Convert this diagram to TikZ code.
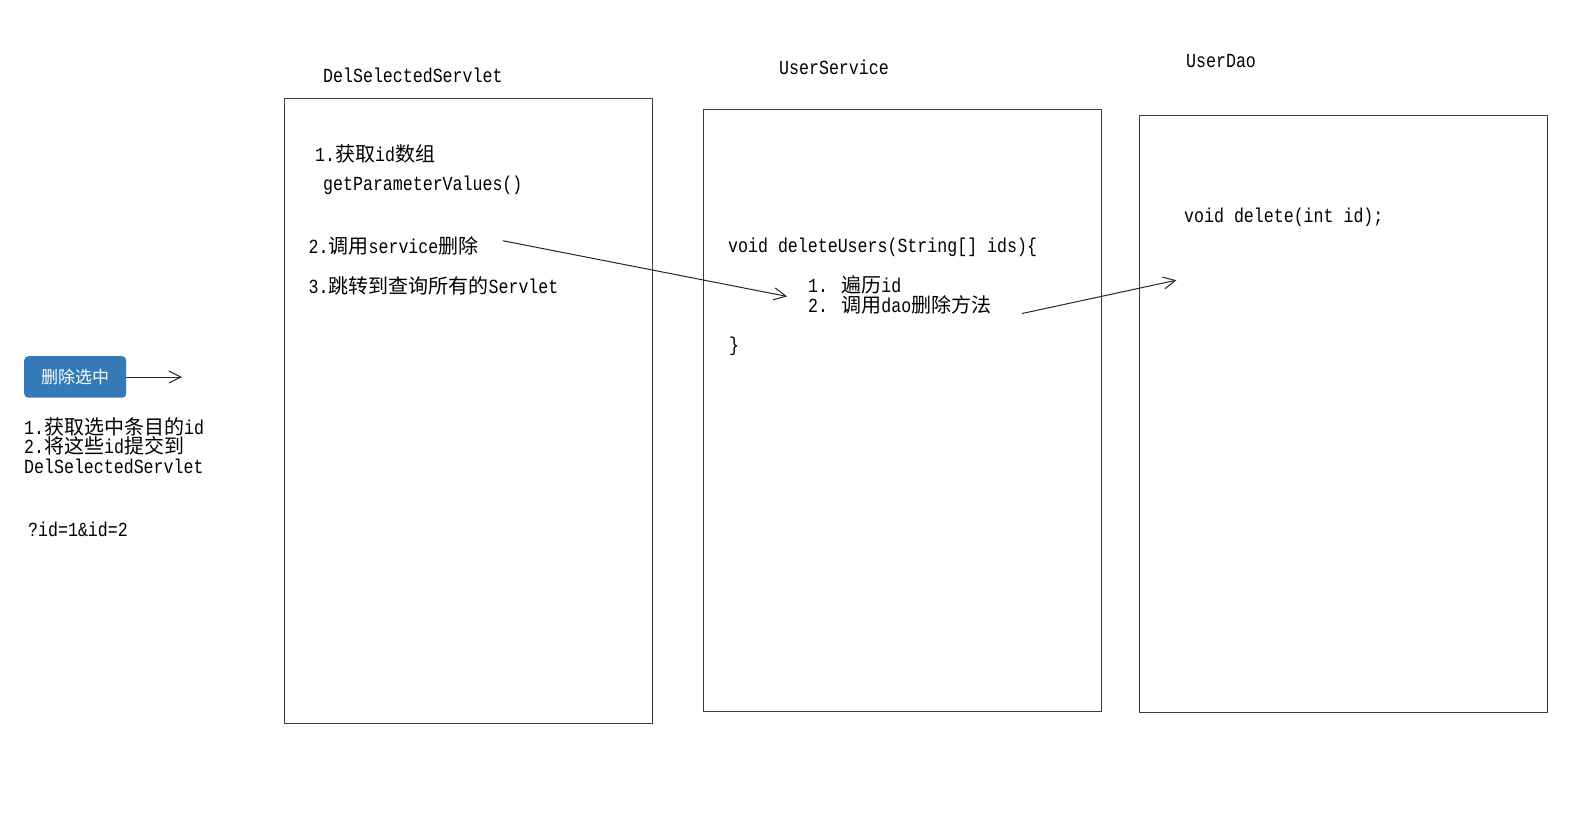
\documentclass[tikz,border=0pt]{standalone}
\usepackage{fontspec}
\setmainfont{Liberation Mono}[FakeStretch=0.83]
\newfontfamily\cjk{Noto Sans CJK SC}
\usetikzlibrary{arrows.meta}
\definecolor{btnblue}{RGB}{51,122,183}
\definecolor{boxline}{RGB}{60,60,60}
\newcommand\fs{\fontsize{20}{20}\selectfont}
\newcommand\zh[1]{{\cjk #1}}
\tikzset{
  box/.style={draw=boxline, line width=1.2pt, anchor=north west, inner sep=0pt},
  lbl/.style={anchor=base west, inner sep=0pt, font=\fs, text=black},
  lines/.style={anchor=north west, inner sep=0pt, font=\fs, align=left, text=black},
  conn/.style={-{Straight Barb[length=12pt,width=12pt,line width=1pt]}, line width=1pt, draw=black!85},
  btn/.style={fill=btnblue, rounded corners=4pt, anchor=north west, inner sep=0pt,
    minimum width=102pt, minimum height=41.5pt, text=white, font=\cjk\fontsize{17}{17}\selectfont},
}
\begin{document}
\begin{tikzpicture}[x=1pt,y=-1pt]
\useasboundingbox[fill=white] (0,0) rectangle (1586,815);

% boxes
\node[box, minimum width=368pt, minimum height=625pt] (servlet) at (284,98) {};
\node[box, minimum width=398pt, minimum height=602pt] (service) at (703,109) {};
\node[box, minimum width=408pt, minimum height=597pt] (dao) at (1139,115) {};

% titles
\node[lbl] (t1) at (323,82.5) {DelSelectedServlet};
\node[lbl] (t2) at (779,74.5) {UserService};
\node[lbl] (t3) at (1186,67.5) {UserDao};

% button
\node[btn] (button) at (24,356) {删除选中};
\coordinate (btnend) at (182,377);
\draw[conn] (button.east |- btnend) -- (btnend);

% left notes
\node[lbl] (n1) at (24,434.5) {1.\zh{获取选中条目的}id};
\node[lbl] (n2) at (24,453.5) {2.\zh{将这些}id\zh{提交到}};
\node[lbl] (n3) at (24,473.5) {DelSelectedServlet};
\node[lbl] (q) at (28,536.5) {?id=1\&id=2};

% servlet content
\node[lbl] (s1) at (315,161.5) {1.\zh{获取}id\zh{数组}};
\node[lbl] (s2) at (323,190.5) {getParameterValues()};
\node[lbl] (s3) at (308.5,253.5) {2.\zh{调用}service\zh{删除}};
\node[lbl] (s4) at (308.5,293.5) {3.\zh{跳转到查询所有的}Servlet};

% service content
\node[lbl] (u1) at (728,252.5) {void deleteUsers(String[] ids)\{};
\node[lbl] (u2) at (808,292.5) {1. \zh{遍历}id};
\node[lbl] (u3) at (808,312) {2. \zh{调用}dao\zh{删除方法}};
\node[lbl] (u4) at (729,351.5) {\}};

% dao content
\node[lbl] (d1) at (1184,222) {void delete(int id);};

% connectors
\coordinate (a1s) at (502.7,240.7);
\coordinate (a1e) at (787,296.4);
\coordinate (a2s) at (1021.6,313.6);
\coordinate (a2e) at (1176.4,280.2);
\draw[conn] (a1s) -- (a1e);
\draw[conn] (a2s) -- (a2e);
\end{tikzpicture}
\end{document}
